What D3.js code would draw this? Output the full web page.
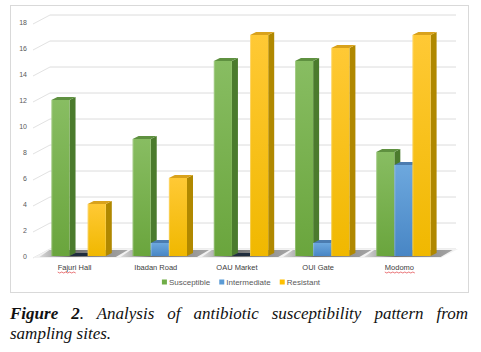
<!DOCTYPE html>
<html>
<head>
<meta charset="utf-8">
<script src="https://cdn.jsdelivr.net/npm/d3@7"></script>
<style>
  body { margin: 0; background: #fff; overflow: hidden; }
  #chart { position: relative; width: 481px; height: 352px; }
  .caption {
    position: absolute; left: 10px; top: 304px; width: 458px;
    font-family: "Liberation Serif", serif; font-style: italic; font-size: 17px;
    line-height: 20px; text-align: justify; color: #111;
  }
</style>
</head>
<body>
<div id="chart"></div>
<script>
// data
const sites = ["Fajuri Hall", "Ibadan Road", "OAU Market", "OUI Gate", "Modomo"];
const seriesNames = ["Susceptible", "Intermediate", "Resistant"];
const susceptible = [12, 9, 15, 15, 8];
const intermediate = [0, 1, 0, 1, 7];
const resistant = [4, 6, 17, 16, 17];
const yTicks = [0, 2, 4, 6, 8, 10, 12, 14, 16, 18];

const seriesValues = [susceptible, intermediate, resistant];

// colours per series: front top, front bottom, side, top face
const colors = [
    {top: "#88bd62", bottom: "#6aa53d", side: "#4b7b2d", cap: "#5f9140", legend: "#70ad47"},
    {top: "#6da8de", bottom: "#4886c5", side: "#3c6c9c", cap: "#4b7cb0", legend: "#5b9bd5"},
    {top: "#ffc935", bottom: "#f0b800", side: "#b08800", cap: "#d9a21c", legend: "#ffc000"}
];

const W = 481, H = 352;
const dx = 6, dy = -3;          // bar depth
const wallDx = 16, wallDy = -9; // back wall offset

const svg = d3.select("#chart").append("svg")
    .attr("width", W)
    .attr("height", H)
    .style("position", "absolute")
    .style("left", 0)
    .style("top", 0);

// chart border
svg.append("rect")
    .attr("x", 10.5).attr("y", 5.5)
    .attr("width", 458).attr("height", 287)
    .attr("fill", "none")
    .attr("stroke", "#d9d9d9");

// scales
const yScale = d3.scaleLinear().domain([0, 18]).range([256, 22]);
const xScale = d3.scaleBand().domain(sites).range([38, 444])
    .paddingInner(0.33).paddingOuter(0.165);
const xInner = d3.scaleBand().domain(seriesNames).range([0, xScale.bandwidth()]);

// gradients
const defs = svg.append("defs");
colors.forEach((c, i) => {
    let g = defs.append("linearGradient").attr("id", "front" + i)
        .attr("x1", 0).attr("y1", 0).attr("x2", 0).attr("y2", 1);
    g.append("stop").attr("offset", "0%").attr("stop-color", c.top);
    g.append("stop").attr("offset", "100%").attr("stop-color", c.bottom);
});
let sg = defs.append("linearGradient").attr("id", "shadow")
    .attr("x1", 0).attr("y1", 0).attr("x2", 1).attr("y2", 0);
sg.append("stop").attr("offset", "0%").attr("stop-color", "#555").attr("stop-opacity", 0.15);
sg.append("stop").attr("offset", "35%").attr("stop-color", "#444").attr("stop-opacity", 0.75);
sg.append("stop").attr("offset", "100%").attr("stop-color", "#666").attr("stop-opacity", 0.55);

// gridlines on back wall + diagonal to the labels
const grid = svg.append("g").attr("class", "grid");
yTicks.forEach(v => {
    let y = yScale(v);
    grid.append("line")
        .attr("x1", 34 + wallDx).attr("x2", 456)
        .attr("y1", y - 7).attr("y2", y - 7)
        .attr("stroke", "#dcdcdc").attr("stroke-width", 1);
    grid.append("line")
        .attr("x1", 33).attr("y1", y + 2)
        .attr("x2", 34 + wallDx).attr("y2", y - 7)
        .attr("stroke", "#e2e2e2").attr("stroke-width", 1);
});

// y tick labels
svg.append("g").selectAll("text")
    .data(yTicks).enter().append("text")
    .attr("x", 27)
    .attr("y", d => yScale(d) + 1)
    .attr("dy", "0.35em")
    .attr("text-anchor", "end")
    .style("font-family", "Liberation Sans, sans-serif")
    .style("font-size", "7px")
    .style("fill", "#595959")
    .text(d => d);

// floor
const base = yScale(0);
svg.append("path")
    .attr("d", `M33,${base + 2} L50,${base - 7} L458,${base - 7} L441,${base + 2} Z`)
    .attr("fill", "#f2f2f2");

// shadows under each group
sites.forEach(s => {
    let x0 = xScale(s) - 12, x1 = xScale(s) + xScale.bandwidth() + 16;
    svg.append("path")
        .attr("d", `M${x0},${base + 1} L${x0 + 10},${base - 6} L${x1 + 6},${base - 6} L${x1 - 6},${base + 1} Z`)
        .attr("fill", "url(#shadow)");
});

// bars
const bars = svg.append("g").attr("class", "bars");
sites.forEach((s, ci) => {
    seriesNames.forEach((name, si) => {
        let v = seriesValues[si][ci];
        let c = colors[si];
        let x = xScale(s) + xInner(name);
        let w = xInner.bandwidth();
        let y = yScale(v);
        let g = bars.append("g");
        if (v === 0) {
            // flat dark cap for empty bar
            g.append("path")
                .attr("d", `M${x},${base} L${x + dx},${base + dy} L${x + w + dx},${base + dy} L${x + w},${base} Z`)
                .attr("fill", "#1f2d3d");
            return;
        }
        g.append("path")
            .attr("d", `M${x + w},${y} L${x + w + dx},${y + dy} L${x + w + dx},${base + dy} L${x + w},${base} Z`)
            .attr("fill", c.side);
        g.append("path")
            .attr("d", `M${x},${y} L${x + dx},${y + dy} L${x + w + dx},${y + dy} L${x + w},${y} Z`)
            .attr("fill", c.cap);
        g.append("rect")
            .attr("x", x).attr("y", y)
            .attr("width", w).attr("height", base - y)
            .attr("fill", `url(#front${si})`);
        g.append("line")
            .attr("x1", x + 0.5).attr("x2", x + 0.5)
            .attr("y1", y).attr("y2", base)
            .attr("stroke", "#fff").attr("stroke-opacity", 0.25);
    });
});

// category labels
const flagged = ["Fajuri", "Modomo"];
const catLabels = svg.append("g");
sites.forEach(s => {
    let cx = xScale(s) + xScale.bandwidth() / 2 - 4;
    let t = catLabels.append("text")
        .attr("x", cx).attr("y", 270)
        .attr("text-anchor", "middle")
        .style("font-family", "Liberation Sans, sans-serif")
        .style("font-size", "7.5px")
        .style("fill", "#404040")
        .text(s);
    // spell-check squiggle under the odd words
    let first = s.split(" ")[0];
    if (flagged.includes(first)) {
        let full = t.node().getComputedTextLength();
        let tmp = catLabels.append("text")
            .style("font-family", "Liberation Sans, sans-serif")
            .style("font-size", "7.5px")
            .text(first);
        let fw = tmp.node().getComputedTextLength();
        tmp.remove();
        let x0 = cx - full / 2, pts = [];
        for (let i = 0; i <= Math.round(fw / 2); i++) {
            pts.push([x0 + i * 2, 272 + (i % 2 ? 1 : 0)]);
        }
        catLabels.append("path")
            .attr("d", d3.line()(pts))
            .attr("fill", "none")
            .attr("stroke", "#e0393e")
            .attr("stroke-width", 0.7);
    }
});

// legend
const legend = svg.append("g");
let lx = 0;
seriesNames.forEach((name, i) => {
    let item = legend.append("g").attr("transform", `translate(${lx},0)`);
    item.append("rect")
        .attr("x", 0).attr("y", -2.5)
        .attr("width", 5).attr("height", 5)
        .attr("fill", colors[i].legend);
    let t = item.append("text")
        .attr("x", 7).attr("y", 0).attr("dy", "0.35em")
        .style("font-family", "Liberation Sans, sans-serif")
        .style("font-size", "8px")
        .style("fill", "#595959")
        .text(name);
    lx += 7 + t.node().getComputedTextLength() + 9;
});
lx -= 9;
legend.attr("transform", `translate(${241 - lx / 2},282)`);

// figure caption
d3.select("#chart").append("div")
    .attr("class", "caption")
    .html("<b>Figure 2</b>. Analysis of antibiotic susceptibility pattern from sampling sites.");
</script>
</body>
</html>
